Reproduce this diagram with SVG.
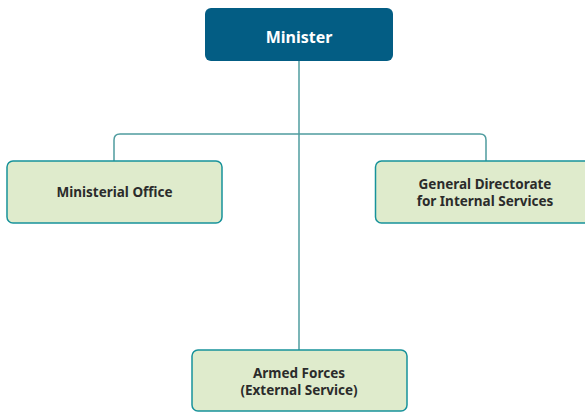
<svg xmlns="http://www.w3.org/2000/svg" width="585" height="412" viewBox="0 0 585 412">
  <style>
    .box { fill: #dfebcc; stroke: #17929a; stroke-width: 1.5; }
    .top { fill: #035d84; }
    .lbl { font-family: "Noto Sans", "Liberation Sans", sans-serif; font-weight: bold; font-size: 13.5px; fill: #2b2b2b; text-anchor: middle; }
    .head { font-family: "Noto Sans", "Liberation Sans", sans-serif; font-weight: bold; font-size: 16px; fill: #ffffff; text-anchor: middle; }
    .wire { fill: none; stroke: #4f9c9f; stroke-width: 1.5; }
  </style>
  <rect width="585" height="412" fill="#ffffff"/>
  <g id="connectors">
    <path class="wire" d="M299 61 V350"/>
    <path class="wire" d="M114 161 V140 Q114 134 120 134 H480 Q486 134 486 140 V161"/>
  </g>
  <g id="minister">
    <rect class="top" x="205" y="8" width="188" height="53" rx="6"/>
    <text class="head" x="299" y="43">Minister</text>
  </g>
  <g id="ministerial-office">
    <rect class="box" x="7" y="161" width="215" height="62" rx="6"/>
    <text class="lbl" x="114.5" y="197">Ministerial Office</text>
  </g>
  <g id="general-directorate">
    <rect class="box" x="375.5" y="161" width="220" height="62" rx="6"/>
    <text class="lbl" x="485" y="189">General Directorate</text>
    <text class="lbl" x="485" y="206">for Internal Services</text>
  </g>
  <g id="armed-forces">
    <rect class="box" x="192" y="350" width="215" height="61" rx="6"/>
    <text class="lbl" x="299" y="378">Armed Forces</text>
    <text class="lbl" x="299" y="395">(External Service)</text>
  </g>
</svg>
